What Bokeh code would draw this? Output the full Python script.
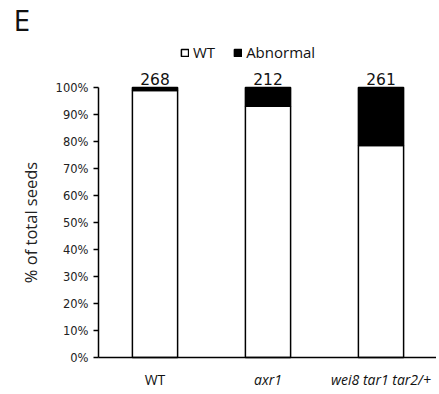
from bokeh.plotting import figure
from bokeh.models import Range1d, NumeralTickFormatter, Label, Legend, LegendItem, FixedTicker
from bokeh.embed import file_html
from bokeh.resources import INLINE

categories = ["WT", "axr1", "wei8 tar1 tar2/+"]
wt_frac = [0.989, 0.931, 0.785]
abn_frac = [0.011, 0.069, 0.215]
counts = ["268", "212", "261"]
italic = [False, True, True]
yticks = [0, 0.1, 0.2, 0.3, 0.4, 0.5, 0.6, 0.7, 0.8, 0.9, 1.0]

W, H = 436, 390
x0, xs_per = 98, 113.0   # pixel of x=0, px per category
y0, ys_per = 357, 270.0  # pixel of y=0, px per 100%
xr = Range1d(-x0 / xs_per, (W - x0) / xs_per)
yr = Range1d(-(H - y0) / ys_per, y0 / ys_per)

p = figure(x_range=xr, y_range=yr, width=W, height=H,
           min_border=0, output_backend="svg", toolbar_location=None)
p.outline_line_color = None
p.grid.grid_line_color = None
p.background_fill_color = "white"

xpos = [i + 0.5 for i in range(len(categories))]
data = dict(x=xpos, wt=wt_frac, abn=abn_frac)
rs = p.vbar_stack(["wt", "abn"], x="x", width=0.4, source=data,
                  fill_color=["white", "black"], line_color="black", line_width=1.5)

# y axis
p.yaxis.fixed_location = 0
p.yaxis.bounds = (0, 1)
p.yaxis.ticker = FixedTicker(ticks=yticks)
p.yaxis.formatter = NumeralTickFormatter(format="0%")
p.yaxis.axis_line_width = 1.5
p.yaxis.major_tick_line_width = 1.5
p.yaxis.major_tick_out = 5
p.yaxis.major_tick_in = 0
p.yaxis.minor_tick_line_color = None
p.yaxis.major_label_text_font = "DejaVu Sans"
p.yaxis.major_label_text_font_size = "11.5px"
p.yaxis.major_label_text_color = "#222222"
p.yaxis.major_label_standoff = 5
p.yaxis.axis_label = "% of total seeds"
p.yaxis.axis_label_text_font = "Open Sans"
p.yaxis.axis_label_text_font_style = "normal"
p.yaxis.axis_label_text_font_size = "16.5px"
p.yaxis.axis_label_text_color = "#222222"
p.yaxis.axis_label_standoff = 11

# x axis
p.xaxis.fixed_location = 0
p.xaxis.bounds = (0, 3)
p.xaxis.ticker = FixedTicker(ticks=[])
p.xaxis.axis_line_width = 1.5
p.xaxis.major_tick_line_color = None
p.xaxis.minor_tick_line_color = None

for xp, c, it in zip(xpos, categories, italic):
    p.add_layout(Label(x=xp, y=-0.081, text=c, text_align="center", text_baseline="middle",
                       text_font="Open Sans", text_font_size="14px",
                       text_font_style="italic" if it else "normal", text_color="#111111"))

for xp, n in zip(xpos, counts):
    p.add_layout(Label(x=xp, y=1.033, text=n, text_align="center", text_baseline="alphabetic",
                       text_font="DejaVu Sans", text_font_size="15.5px", text_color="#111111"))

p.add_layout(Label(x=-0.752, y=1.252, text="E", text_align="left", text_baseline="alphabetic",
                   text_font="Open Sans", text_font_size="30px", text_color="#111111"))

legend = Legend(items=[LegendItem(label="WT", renderers=[rs[0]]),
                       LegendItem(label="Abnormal", renderers=[rs[1]])],
                location=(180, 328), orientation="horizontal",
                glyph_width=9, glyph_height=9, label_standoff=4, spacing=18,
                padding=0, margin=0, border_line_color=None, background_fill_alpha=0,
                label_text_font="Open Sans", label_text_font_size="15px",
                label_text_color="#111111", label_height=14)
p.add_layout(legend, "center")

open("out.html", "w").write(file_html(p, INLINE))
